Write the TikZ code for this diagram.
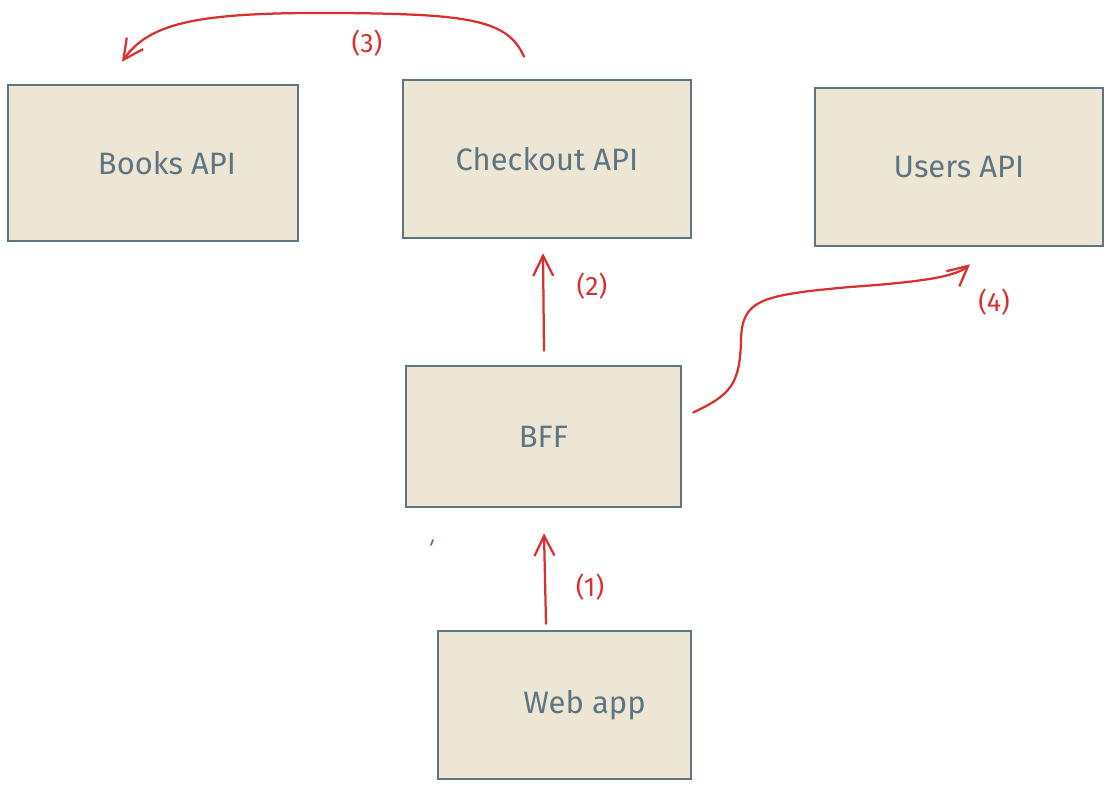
\documentclass[tikz,border=0pt]{standalone}
\usepackage{fontspec}
\setmainfont{Fira Sans}
\usetikzlibrary{calc,arrows.meta}
\definecolor{boxfill}{HTML}{EDE6D4}
\definecolor{boxline}{HTML}{5E7582}
\definecolor{arrowred}{HTML}{D8302F}

\begin{document}
\begin{tikzpicture}[x=0.025cm, y=-0.025cm,
		api/.style={draw=boxline, fill=boxfill, line width=1.8pt, text=boxline, font=\fontsize{22}{26}\selectfont, inner sep=0pt},
		flow/.style={draw=arrowred, line width=1.6pt, line cap=round, -{Straight Barb[length=5mm, width=5mm, line width=1.6pt]}},
		num/.style={text=arrowred, font=\fontsize{19}{23}\selectfont}]
		%%%%% START %%%%%
		\useasboundingbox (0, 0) rectangle (1112, 789);
		
		\node[api, minimum width=7.25cm, minimum height=3.9cm] (books) at (153, 163) {\hspace*{0.7cm}Books API};
		\node[api, minimum width=7.2cm, minimum height=3.95cm] (checkout) at (547, 159) {Checkout API};
		\node[api, minimum width=7.2cm, minimum height=3.95cm] (users) at (959, 167) {Users API};
		\node[api, minimum width=6.875cm, minimum height=3.525cm] (bff) at (543.5, 436.5) {BFF};
		\node[api, minimum width=6.325cm, minimum height=3.7cm] (webapp) at (564.5, 705) {\hspace*{1cm}Web app};
		
		\draw[boxline, line width=1.2pt, line cap=round] (431, 545) -- (433, 540);
		
		\draw[flow] ($(bff.south |- webapp.north)+(2.5, -6)$) -- ($(bff.south)+(0.5, 25)$);
		\node[num] (n1) at (590, 587) {(1)};
		
		\draw[flow] ($(bff.north)+(0.5, -14)$) -- ($(bff.north |- checkout.south)+(-0.5, 14)$);
		\node[num] (n2) at (592, 286) {(2)};
		
		\draw[flow] ($(checkout.north)+(-23, -22)$) .. controls (508, 20) and (470, 14) .. (340, 13) .. controls (200, 12) and (150, 22) .. ($(books.north)+(-31, -22)$);
		\node[num] (n3) at (367, 43) {(3)};
		
		\draw[flow] ($(bff.east)+(11, -24)$) .. controls (730, 395) and (740, 385) .. (741, 340) .. controls (742, 300) and (760, 295) .. (850, 287) .. controls (920, 282) and (955, 277) .. ($(users.south)+(11, 17)$);
		\node[num] (n4) at (994, 302) {(4)};
		%%%%% END %%%%%
	\end{tikzpicture}
\end{document}
